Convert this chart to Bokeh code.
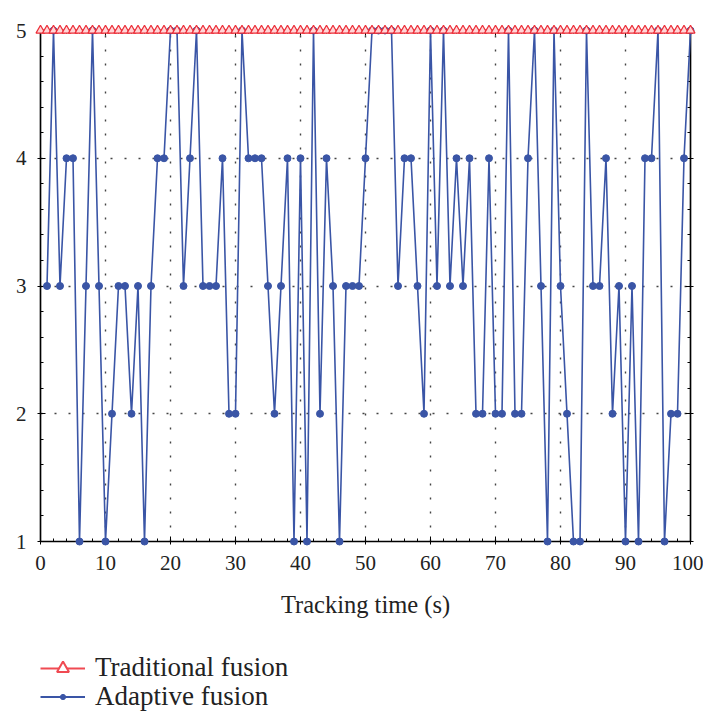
from bokeh.plotting import figure
from bokeh.layouts import column
from bokeh.models import Range1d, LinearAxis, SingleIntervalTicker, Legend, LegendItem, Grid
from bokeh.embed import file_html
from bokeh.resources import INLINE

# ---- data ----
trad_t = list(range(0, 101))
trad_v = [5] * 101

adapt_t = list(range(1, 101))
adapt_v = [3, 5, 3, 4, 4, 1, 3, 5, 3, 1,
           2, 3, 3, 2, 3, 1, 3, 4, 4, 5,
           5, 3, 4, 5, 3, 3, 3, 4, 2, 2,
           5, 4, 4, 4, 3, 2, 3, 4, 1, 4,
           1, 5, 2, 4, 3, 1, 3, 3, 3, 4,
           5, 5, 5, 5, 3, 4, 4, 3, 2, 5,
           3, 5, 3, 4, 3, 4, 2, 2, 4, 2,
           2, 5, 2, 2, 4, 5, 3, 1, 5, 3,
           2, 1, 1, 5, 3, 3, 4, 2, 3, 1,
           3, 1, 4, 4, 5, 1, 2, 2, 4, 5]

x_label = "Tracking time (s)"
names = ["Traditional fusion", "Adaptive fusion"]

RED = "#ec2d37"
BLUE = "#3a55a6"
FONT = "Liberation Serif"

p = figure(width=703, height=623, output_backend="svg", toolbar_location=None,
           x_range=Range1d(0, 100), y_range=Range1d(1, 5),
           min_border_left=40, min_border_right=13, min_border_top=30, min_border_bottom=82,
           x_axis_type=None, y_axis_type=None)
p.outline_line_color = "black"
p.outline_line_width = 1.5
p.background_fill_color = "white"
p.border_fill_color = "white"

def style_axis(ax, labels=True):
    ax.axis_line_color = "black"
    ax.axis_line_width = 1.2
    ax.major_tick_in = 5
    ax.major_tick_out = 3
    ax.minor_tick_in = 3
    ax.minor_tick_out = 0
    ax.major_tick_line_color = "black"
    ax.minor_tick_line_color = "black"
    ax.major_label_text_font = FONT
    ax.major_label_text_font_size = "21px"
    ax.major_label_text_color = "#222222"
    ax.major_label_standoff = 11
    if not labels:
        ax.major_label_text_alpha = 0
        ax.major_label_text_font_size = "1px"

xb = LinearAxis(ticker=SingleIntervalTicker(interval=10, num_minor_ticks=5), axis_label=x_label)
style_axis(xb)
xb.axis_label_text_font = FONT
xb.axis_label_text_font_size = "24.5px"
xb.axis_label_text_font_style = "normal"
xb.axis_label_text_color = "#222222"
xb.axis_label_standoff = 18
p.add_layout(xb, "below")

yl = LinearAxis(ticker=SingleIntervalTicker(interval=1, num_minor_ticks=5))
style_axis(yl)
p.add_layout(yl, "left")

xa = LinearAxis(ticker=SingleIntervalTicker(interval=10, num_minor_ticks=5))
style_axis(xa, labels=False)
p.add_layout(xa, "above")
yr = LinearAxis(ticker=SingleIntervalTicker(interval=1, num_minor_ticks=5))
style_axis(yr, labels=False)
p.add_layout(yr, "right")

for dim, iv in ((0, 10), (1, 1)):
    g = Grid(dimension=dim, ticker=SingleIntervalTicker(interval=iv))
    g.grid_line_color = "#444444"
    g.grid_line_width = 1.4
    g.grid_line_dash = "2 12"
    p.add_layout(g)

p.line(adapt_t, adapt_v, line_color=BLUE, line_width=1.6, level="overlay")
p.scatter(adapt_t, adapt_v, marker="circle", size=7,
          fill_color=BLUE, line_color=BLUE, level="overlay")
p.line(trad_t, trad_v, line_color=RED, line_width=1.6, level="overlay")
p.scatter(trad_t, trad_v, marker="triangle", size=9,
          fill_color="#ffd6d8", line_color=RED, line_width=1.2, level="overlay")

# ---- legend figure ----
q = figure(width=703, height=89, output_backend="svg", toolbar_location=None,
           x_range=Range1d(0, 1), y_range=Range1d(0, 1),
           min_border_left=0, min_border_right=0, min_border_top=0, min_border_bottom=0,
           x_axis_type=None, y_axis_type=None)
q.outline_line_color = None
q.background_fill_color = "white"
q.border_fill_color = "white"
off = [-10]
lt1 = q.line(off, off, line_color="#f04a52", line_width=2.2)
lt2 = q.scatter(off, off, marker="triangle", size=13, fill_color="white",
                line_color="#f04a52", line_width=2)
la1 = q.line(off, off, line_color=BLUE, line_width=2)
la2 = q.scatter(off, off, marker="circle", size=6, fill_color=BLUE, line_color=BLUE)

def make_legend(item, gh, loc):
    lg = Legend(items=[item], location=loc, orientation="vertical")
    lg.glyph_width = 45
    lg.glyph_height = gh
    lg.label_height = 28
    lg.label_standoff = 10
    lg.spacing = 0
    lg.padding = 0
    lg.margin = 0
    lg.border_line_color = None
    lg.background_fill_alpha = 0
    lg.label_text_font = FONT
    lg.label_text_font_size = "27px"
    lg.label_text_color = "#222222"
    return lg

q.add_layout(make_legend(LegendItem(label=names[0], renderers=[lt1, lt2]), 30, (0, 29)), "center")
q.add_layout(make_legend(LegendItem(label=names[1], renderers=[la1, la2]), 13, (0, 0)), "center")

layout = column(p, q, spacing=0)
open("out.html", "w").write(file_html(layout, INLINE))
